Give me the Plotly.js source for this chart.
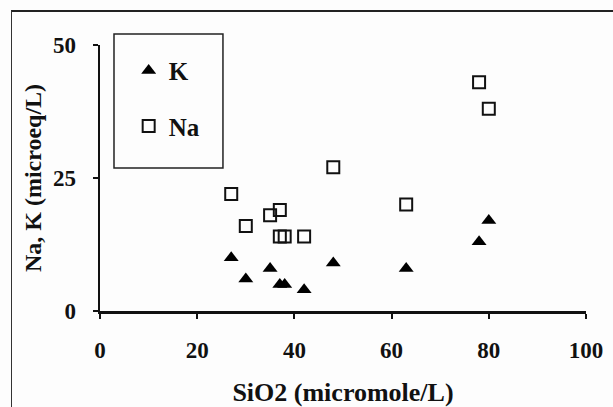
<!DOCTYPE html>
<html>
<head>
<meta charset="utf-8">
<script src="https://cdn.plot.ly/plotly-3.0.1.min.js"></script>
<style>
html,body{margin:0;padding:0;background:#fdfdfd;}
#wrap{position:relative;width:613px;height:407px;overflow:hidden;background:#fdfdfd;}
#chart{position:absolute;left:0;top:0;width:613px;height:407px;}
#frame{position:absolute;left:11px;top:10px;width:640px;height:420px;border-top:2px solid #222;border-left:1.5px solid #333;pointer-events:none;}
</style>
</head>
<body>
<div id="wrap"><div id="chart"></div><div id="frame"></div></div>
<script>
var kX = [27, 30, 35, 37, 38, 42, 48, 63, 78, 80];
var kY = [10, 6, 8, 5, 5, 4, 9, 8, 13, 17];
var naX = [27, 30, 35, 37, 37, 38, 42, 48, 63, 78, 80];
var naY = [22, 16, 18, 19, 14, 14, 14, 27, 20, 43, 38];
var xTicks = [0, 20, 40, 60, 80, 100];
var yTicks = [0, 25, 50];

var serif = 'Liberation Serif, Times New Roman, serif';
var traces = [
  {x: kX, y: kY, name: 'K', type: 'scatter', mode: 'markers', legendgroup: 'k',
   marker: {symbol: 'triangle-up', size: 13, color: '#000'}},
  {x: naX, y: naY, name: 'Na', type: 'scatter', mode: 'markers', legendgroup: 'na',
   marker: {symbol: 'square-open', size: 12, color: '#111', line: {width: 2, color: '#111'}}}
];
var layout = {
  width: 613, height: 407,
  paper_bgcolor: 'rgba(0,0,0,0)', plot_bgcolor: 'rgba(0,0,0,0)',
  margin: {l: 100, r: 27, t: 45, b: 96},
  font: {family: serif, color: '#111'},
  showlegend: true,
  legend: {x: 0.059, y: 0.99, xanchor: 'left', yanchor: 'top',
    borderwidth: 0, bgcolor: 'rgba(0,0,0,0)',
    font: {family: serif, size: 25, weight: 'bold', color: '#111'},
    tracegroupgap: 20, itemwidth: 30},
  shapes: [
    {type: 'rect', xref: 'paper', yref: 'paper', x0: 0.0288, x1: 0.253, y0: 0.538, y1: 1.041,
     line: {color: '#222', width: 1.5}, fillcolor: 'rgba(0,0,0,0)'}
  ],
  xaxis: {range: [0, 100], tickvals: xTicks, ticktext: xTicks.map(String),
    showgrid: false, zeroline: false, showline: true, linecolor: '#111', linewidth: 2.5,
    ticks: 'outside', ticklen: 5, tickwidth: 2, tickcolor: '#111', ticklabelstandoff: 12,
    tickfont: {family: serif, size: 23, weight: 'bold'},
    title: {text: 'SiO2 (micromole/L)', font: {family: serif, size: 26, weight: 'bold'}, standoff: 22},
    automargin: false},
  yaxis: {range: [0, 50], tickvals: yTicks, ticktext: yTicks.map(String),
    showgrid: false, zeroline: false, showline: true, linecolor: '#111', linewidth: 2.5,
    ticks: 'outside', ticklen: 5, tickwidth: 2, tickcolor: '#111', ticklabelstandoff: 12,
    tickfont: {family: serif, size: 23, weight: 'bold'},
    title: {text: 'Na, K (microeq/L)', font: {family: serif, size: 24, weight: 'bold'}},
    automargin: false}
};
Plotly.newPlot('chart', traces, layout, {displayModeBar: false, staticPlot: true});
</script>
</body>
</html>
